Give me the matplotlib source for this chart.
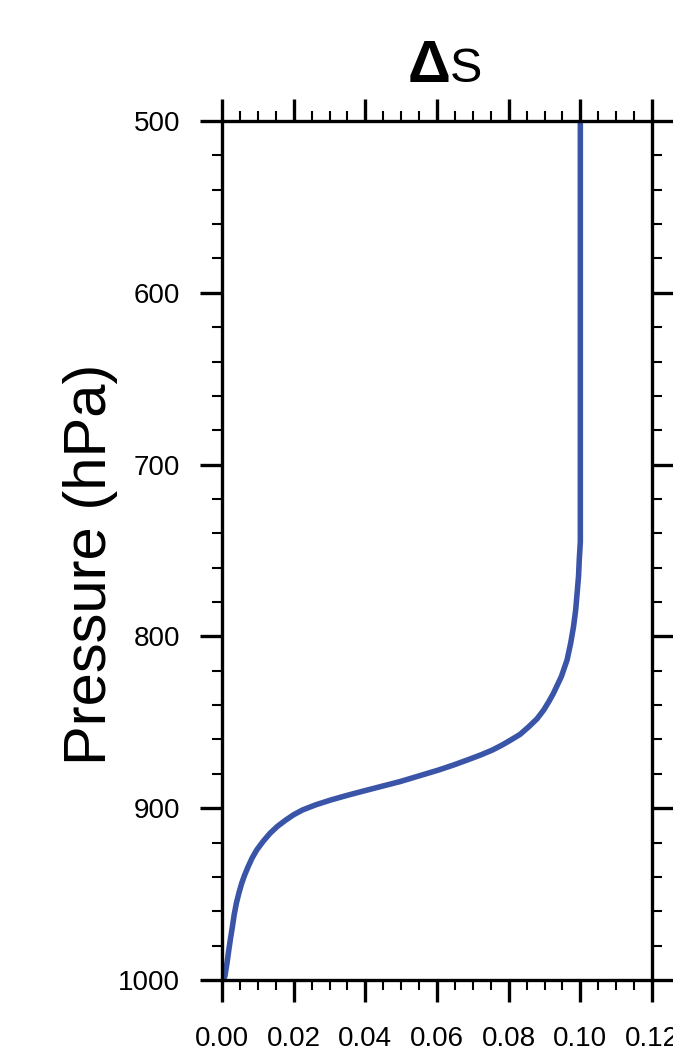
import matplotlib
matplotlib.use("Agg")
import matplotlib.pyplot as plt
from matplotlib.ticker import MultipleLocator, FormatStrFormatter

# ---- data ----
pressure = [500, 600, 700, 745, 755.5, 765.0, 774.9, 784.6, 794.3, 804.0, 813.7, 823.4,
            833.1, 838.0, 842.8, 848.0, 852.6, 857.0, 860.3, 863.2, 866.1, 869.0,
            871.9, 874.8, 877.8, 881.0, 884.5, 887.3, 890.0, 892.6, 895.2, 898.0,
            901.0, 903.8, 906.9, 910.5, 914.6, 919.5, 924.3, 929.0, 934.0, 939.0,
            943.7, 949.5, 955.4, 962.0, 969.0, 975.5, 982.5, 990.0, 998.0, 1000]
delta_s = [0.100, 0.100, 0.100, 0.100, 0.0997, 0.0995, 0.0991, 0.0987, 0.0981, 0.0973, 0.0963, 0.0947,
           0.0925, 0.0912, 0.0898, 0.0879, 0.0856, 0.0832, 0.0806, 0.0782, 0.0755, 0.0722,
           0.0685, 0.0647, 0.0604, 0.0553, 0.0497, 0.0445, 0.0395, 0.0348, 0.0304, 0.0262,
           0.0225, 0.0200, 0.0178, 0.0155, 0.0134, 0.0114, 0.0097, 0.0084, 0.0073, 0.0063,
           0.0055, 0.0047, 0.0040, 0.0034, 0.0029, 0.0024, 0.0019, 0.0014, 0.0008, 0.0]

x_ticks = [0.00, 0.02, 0.04, 0.06, 0.08, 0.10, 0.12]
y_ticks = [500, 600, 700, 800, 900, 1000]
title_delta = "\u0394"
title_rest = "S"
y_label = "Pressure (hPa)"

W, H = 673, 1050
fig = plt.figure(figsize=(W / 100, H / 100), dpi=100)
ax = fig.add_axes([222 / W, 1 - 980 / H, 430 / W, 859 / H])

ax.plot(delta_s, pressure, color="#3A55A8", lw=4.0, solid_capstyle="butt",
        solid_joinstyle="round")

ax.set_xlim(0, 0.12)
ax.set_ylim(1000, 500)
ax.set_xticks(x_ticks)
ax.set_yticks(y_ticks)
ax.xaxis.set_major_formatter(FormatStrFormatter("%.2f"))
ax.xaxis.set_minor_locator(MultipleLocator(0.005))
ax.yaxis.set_minor_locator(MultipleLocator(20))

for s in ax.spines.values():
    s.set_linewidth(2.4)

ax.tick_params(which="major", direction="out", length=15.8, width=2.4,
               top=True, right=True, labeltop=False, labelright=False,
               labelsize=20)
ax.tick_params(which="minor", direction="out", length=7.5, width=1.5,
               top=True, right=True)
ax.tick_params(axis="y", which="major", pad=14.4)
ax.tick_params(axis="x", which="major", pad=17)
for lab in ax.get_xticklabels() + ax.get_yticklabels():
    lab.set_family(["Liberation Sans", "DejaVu Sans"])

# title: bold delta + regular S
fig.text(408 / W, 1 - 82 / H, title_delta, fontsize=43, fontweight="bold",
         family=["Liberation Sans", "DejaVu Sans"], ha="left", va="baseline")
fig.text(450 / W, 1 - 82 / H, title_rest, fontsize=35,
         family=["Liberation Sans", "DejaVu Sans"], ha="left", va="baseline")

fig.text(91 / W, 1 - 564 / H, y_label, rotation=90, fontsize=43,
         family=["Liberation Sans", "DejaVu Sans"], ha="center", va="center")

fig.savefig("out.png", dpi=100)
